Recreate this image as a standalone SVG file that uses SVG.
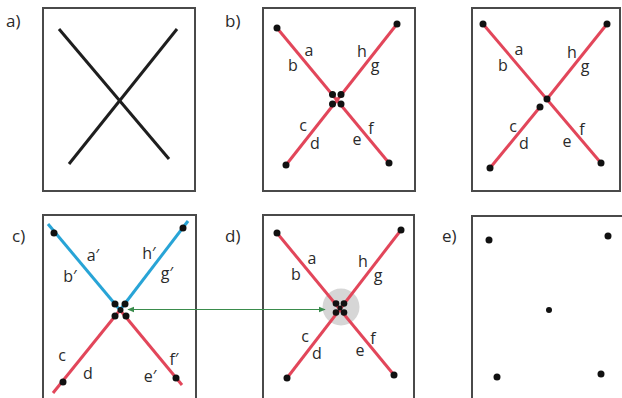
<svg xmlns="http://www.w3.org/2000/svg" width="622" height="398" viewBox="0 0 622 398">
<style>
.box{fill:#fff;stroke:#4a4a4a;stroke-width:2}
.blk{stroke:#1e1e1e;stroke-width:3;fill:none}
.red{stroke:#e2465a;stroke-width:3;fill:none}
.blue{stroke:#28a4d6;stroke-width:3;fill:none}
.dot{fill:#111}
.lab{font-family:"Open Sans","Liberation Sans",sans-serif;font-size:16px;fill:#2a2a2a;text-anchor:middle}
.pl{font-family:"Open Sans","Liberation Sans",sans-serif;font-size:17px;fill:#2a2a2a}
</style>
<defs>
<marker id="ah" viewBox="0 0 10 10" refX="9" refY="5" markerWidth="7" markerHeight="7" orient="auto-start-reverse" markerUnits="userSpaceOnUse">
<path d="M0,1 L10,5 L0,9 z" fill="#3a8c4c"/>
</marker>
</defs>

<g id="panel-a">
<text class="pl" x="6" y="27">a)</text>
<rect class="box" x="43" y="8" width="152" height="183"/>
<line class="blk" x1="59" y1="29" x2="169" y2="159"/>
<line class="blk" x1="177" y1="29" x2="69" y2="164"/>
</g>

<g id="panel-b">
<text class="pl" x="225" y="27">b)</text>
<rect class="box" x="263" y="8" width="152" height="183"/>
<line class="red" x1="277" y1="28" x2="389" y2="163"/>
<line class="red" x1="397" y1="24" x2="286" y2="165"/>
<circle class="dot" cx="277" cy="28" r="3.5"/>
<circle class="dot" cx="397" cy="24" r="3.5"/>
<circle class="dot" cx="286" cy="165" r="3.5"/>
<circle class="dot" cx="389" cy="163" r="3.5"/>
<circle class="dot" cx="332.5" cy="94.5" r="3.5"/>
<circle class="dot" cx="341" cy="94.5" r="3.5"/>
<circle class="dot" cx="332.5" cy="104" r="3.5"/>
<circle class="dot" cx="341" cy="104" r="3.5"/>
<text class="lab" x="309" y="56">a</text>
<text class="lab" x="293" y="71">b</text>
<text class="lab" x="362" y="57">h</text>
<text class="lab" x="375" y="71">g</text>
<text class="lab" x="303" y="131">c</text>
<text class="lab" x="315" y="149">d</text>
<text class="lab" x="357" y="145">e</text>
<text class="lab" x="371" y="134">f</text>
</g>

<g id="panel-b2">
<rect class="box" x="472" y="8" width="148" height="183"/>
<line class="red" x1="483" y1="24" x2="601" y2="163"/>
<line class="red" x1="607" y1="24" x2="547" y2="99"/>
<line class="red" x1="490" y1="168" x2="540" y2="107"/>
<circle class="dot" cx="483" cy="24" r="3.5"/>
<circle class="dot" cx="607" cy="24" r="3.5"/>
<circle class="dot" cx="490" cy="168" r="3.5"/>
<circle class="dot" cx="601" cy="163" r="3.5"/>
<circle class="dot" cx="547" cy="99" r="3.5"/>
<circle class="dot" cx="540" cy="107" r="3.5"/>
<text class="lab" x="519" y="55">a</text>
<text class="lab" x="503" y="71">b</text>
<text class="lab" x="572" y="58">h</text>
<text class="lab" x="585" y="72">g</text>
<text class="lab" x="513" y="132">c</text>
<text class="lab" x="524" y="149">d</text>
<text class="lab" x="567" y="147">e</text>
<text class="lab" x="582" y="135">f</text>
</g>

<g id="panel-c">
<text class="pl" x="12" y="242">c)</text>
<rect class="box" x="43" y="215" width="153" height="190"/>
<line class="blue" x1="48" y1="224" x2="120" y2="310"/>
<line class="blue" x1="188" y1="221" x2="120" y2="310"/>
<line class="red" x1="120" y1="310" x2="53" y2="393"/>
<line class="red" x1="120" y1="310" x2="182" y2="385"/>
<circle class="dot" cx="54" cy="233" r="3.5"/>
<circle class="dot" cx="183" cy="228" r="3.5"/>
<circle class="dot" cx="63" cy="382" r="3.5"/>
<circle class="dot" cx="176" cy="378" r="3.5"/>
<circle class="dot" cx="115" cy="304" r="3.5"/>
<circle class="dot" cx="125" cy="304" r="3.5"/>
<circle class="dot" cx="115" cy="316" r="3.5"/>
<circle class="dot" cx="126" cy="316" r="3.5"/>
<circle class="dot" cx="120.5" cy="310" r="3"/>
<text class="lab" x="93" y="261">a′</text>
<text class="lab" x="70" y="282">b′</text>
<text class="lab" x="149" y="259">h′</text>
<text class="lab" x="167" y="279">g′</text>
<text class="lab" x="62" y="361">c</text>
<text class="lab" x="88" y="379">d</text>
<text class="lab" x="150" y="382">e′</text>
<text class="lab" x="174" y="365">f′</text>
</g>

<g id="panel-d">
<text class="pl" x="225" y="242">d)</text>
<rect class="box" x="263" y="215" width="151" height="190"/>
<circle cx="341" cy="307" r="18.5" fill="#d6d6d6"/>
<line class="red" x1="277" y1="233" x2="394" y2="375"/>
<line class="red" x1="401" y1="230" x2="287" y2="378"/>
<circle class="dot" cx="277" cy="233" r="3.5"/>
<circle class="dot" cx="401" cy="230" r="3.5"/>
<circle class="dot" cx="287" cy="378" r="3.5"/>
<circle class="dot" cx="394" cy="375" r="3.5"/>
<circle class="dot" cx="336" cy="303.5" r="3.3"/>
<circle class="dot" cx="344" cy="303.5" r="3.3"/>
<circle class="dot" cx="336" cy="312.5" r="3.3"/>
<circle class="dot" cx="344" cy="312.5" r="3.3"/>
<circle class="dot" cx="340" cy="308" r="2.5"/>
<text class="lab" x="312" y="264">a</text>
<text class="lab" x="296" y="280">b</text>
<text class="lab" x="363" y="267">h</text>
<text class="lab" x="378" y="281">g</text>
<text class="lab" x="305" y="342">c</text>
<text class="lab" x="317" y="359">d</text>
<text class="lab" x="360" y="356">e</text>
<text class="lab" x="373" y="344">f</text>
</g>

<g id="panel-e">
<text class="pl" x="442" y="242">e)</text>
<rect class="box" x="472" y="216" width="152" height="190"/>
<circle class="dot" cx="489" cy="240" r="3.5"/>
<circle class="dot" cx="608" cy="236" r="3.5"/>
<circle class="dot" cx="549" cy="310" r="3"/>
<circle class="dot" cx="497" cy="377" r="3.5"/>
<circle class="dot" cx="601" cy="374" r="3.5"/>
</g>

<g id="connectors">
<line x1="128" y1="309.5" x2="325" y2="309.5" stroke="#3a8c4c" stroke-width="1" marker-start="url(#ah)" marker-end="url(#ah)"/>
</g>
</svg>
